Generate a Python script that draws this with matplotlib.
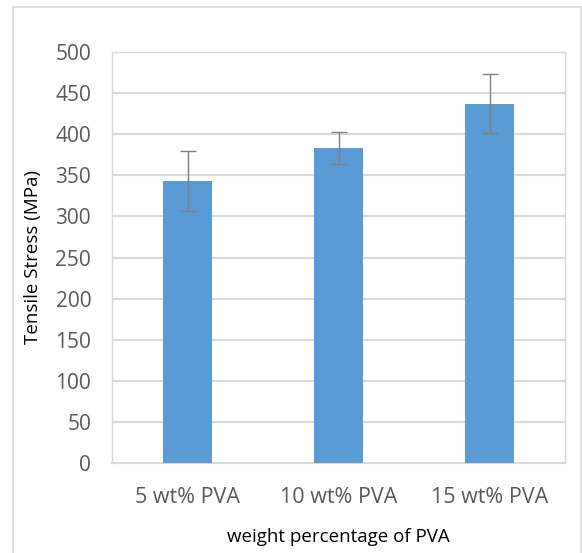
import matplotlib
matplotlib.use("Agg")
import matplotlib.pyplot as plt
from matplotlib.patches import Rectangle

categories = ["5 wt% PVA", "10 wt% PVA", "15 wt% PVA"]
values = [343, 383, 437]
errors = [37, 19.5, 36]
yticks = [0, 50, 100, 150, 200, 250, 300, 350, 400, 450, 500]

plt.rcParams['font.family'] = ['Open Sans', 'DejaVu Sans']
txt = '#595959'
grid = '#D9D9D9'

fig = plt.figure(figsize=(5.82, 5.53), dpi=100)
W, H = 582, 553
ax = fig.add_axes([112 / W, 1 - 463 / H, (565 - 112) / W, (463 - 52) / H])

x = list(range(len(categories)))
ax.bar(x, values, width=0.32, color='#5B9BD5', zorder=3)
ax.errorbar(x, values, yerr=errors, fmt='none', ecolor='#7F7F7F',
            elinewidth=1.0, capsize=6, capthick=1.0, zorder=4)

ax.set_xlim(-0.5, len(categories) - 0.5)
ax.set_ylim(0, 500)
ax.set_yticks(yticks)
ax.set_xticks(x)
ax.set_xticklabels(categories)
ax.yaxis.grid(True, color=grid, linewidth=1.5, zorder=0)
ax.set_axisbelow(True)
for s in ['top', 'right', 'left']:
    ax.spines[s].set_color(grid)
    ax.spines[s].set_linewidth(1.0)
ax.spines['bottom'].set_color(grid)
ax.spines['bottom'].set_linewidth(1.5)
ax.tick_params(axis='y', length=0, labelsize=15, colors=txt, pad=15)
ax.tick_params(axis='x', length=0, labelsize=15.5, colors=txt, pad=17)

ax.set_ylabel('Tensile Stress (MPa)', fontsize=13.5, color='#000000')
ax.yaxis.set_label_coords((42 - 112) / (565 - 112), 0.5)
ax.set_xlabel('weight percentage of PVA', fontsize=13.5, color='#000000')
ax.xaxis.set_label_coords(0.5, -(528 - 463) / (463 - 52))

fig.patches.append(Rectangle((13 / W, -0.1), (581 - 13) / W, (1 - 7 / H) + 0.1,
                             transform=fig.transFigure, fill=False,
                             edgecolor='#D9D9D9', linewidth=1.2))

fig.savefig('out.png', dpi=100)
